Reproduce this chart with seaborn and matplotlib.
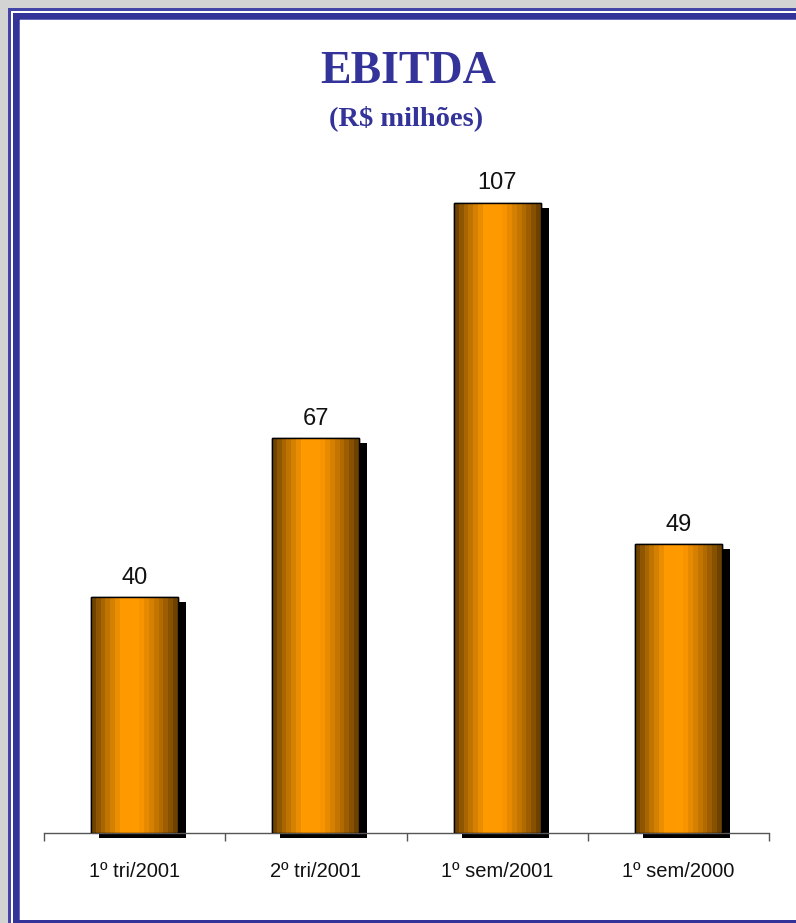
import numpy as np
import pandas as pd
import matplotlib
matplotlib.use("Agg")
import matplotlib.pyplot as plt
import matplotlib.transforms as mtransforms
from matplotlib.patches import Rectangle
import seaborn as sns

# ---- data ----
categories = ["1º tri/2001", "2º tri/2001", "1º sem/2001", "1º sem/2000"]
values = [40, 67, 107, 49]
title = "EBITDA"
subtitle = "(R$ milhões)"

sns.set_theme(style="white")
plt.rcParams['font.family'] = ['Liberation Sans', 'DejaVu Sans']

W, H = 796, 923
fig = plt.figure(figsize=(W / 100, H / 100), dpi=100)
fig.patch.set_facecolor("white")

def px_rect(x0, y0, x1, y1, color, z=0):
    fig.add_artist(Rectangle((x0 / W, 1 - y1 / H), (x1 - x0) / W, (y1 - y0) / H,
                             transform=fig.transFigure, facecolor=color,
                             edgecolor="none", zorder=z))

# outer grey margin
px_rect(0, 0, W, 8, "#d3d3d3")
px_rect(0, 0, 8, H, "#d3d3d3")
blue = "#333399"
# thin outer frame line
px_rect(8, 8, W, 11, "#4444a6")
px_rect(8, 8, 11, H, "#4444a6")
# thick frame band
px_rect(13, 13, W, 20, blue)
px_rect(13, 13, 20, H, blue)
px_rect(20, 19, W, 20, "#6a6ab8")
px_rect(19, 20, 20, H, "#6a6ab8")
px_rect(13, 920, W, H, blue)

ax = fig.add_axes([44 / W, 90 / H, 725 / W, (833 - 170) / H])
df = pd.DataFrame({"cat": categories, "val": values})
sns.barplot(data=df, x="cat", y="val", ax=ax, width=0.48, color="#ff9900",
            edgecolor="black", linewidth=1.0, zorder=3)

ax.set_xlim(-0.5, len(categories) - 0.5)
ax.set_ylim(0, 112.6)
ax.set_facecolor("white")
for s in ["top", "left", "right"]:
    ax.spines[s].set_visible(False)
ax.spines["bottom"].set_color("#555555")
ax.spines["bottom"].set_linewidth(1.0)
ax.spines["bottom"].set_zorder(2)
ax.set_yticks([])
ax.set_xlabel("")
ax.set_ylabel("")
ax.tick_params(axis="x", which="major", length=0, pad=21, labelsize=14.5,
               labelcolor="#111111")
ax.set_xticks(np.arange(-0.5, len(categories)), minor=True)
ax.tick_params(axis="x", which="minor", length=6, width=1.0, color="#555555",
               direction="out", bottom=True)

# stepped gradient for cylinder-like bars
dark = np.array([0x5c, 0x38, 0x00]) / 255
bright = np.array([0xff, 0x99, 0x00]) / 255
nb = 18
t = (np.arange(nb) + 0.5) / nb
w = np.ones(nb)
w = np.where(t < 0.36, t / 0.36, w)
w = np.where(t > 0.56, (1 - t) / 0.44, w)
w = np.clip(w, 0, 1) ** 0.8
cols = dark[None, :] * (1 - w[:, None]) + bright[None, :] * w[:, None]
grad = cols[None, :, :]

shadow_tr = ax.transData + mtransforms.ScaledTranslation(8 / 100, -5 / 100, fig.dpi_scale_trans)

for p, v in zip(ax.patches, values):
    x0, y0 = p.get_x(), p.get_y()
    bw, bh = p.get_width(), p.get_height()
    sh = Rectangle((x0, y0), bw, bh, facecolor="black", edgecolor="none",
                   transform=shadow_tr, zorder=1, clip_on=False)
    ax.add_patch(sh)
    im = ax.imshow(grad, extent=[x0, x0 + bw, y0, y0 + bh], aspect="auto",
                   interpolation="nearest", zorder=3.5)
    im.set_clip_path(p)
    ax.add_patch(Rectangle((x0, y0), bw, bh, facecolor="none", edgecolor="black",
                           linewidth=1.0, zorder=4))
    ax.annotate(f"{v}", (x0 + bw / 2, y0 + bh), xytext=(0, 10),
                textcoords="offset points", ha="center", va="baseline",
                fontsize=17, color="#111111", zorder=5)

fig.text(408 / W, 1 - 83 / H, title, ha="center", va="baseline",
         family=["Liberation Serif", "DejaVu Serif"], fontweight="bold",
         fontsize=33, color=blue)
fig.text(406 / W, 1 - 125 / H, subtitle, ha="center", va="baseline",
         family=["Liberation Serif", "DejaVu Serif"], fontweight="bold",
         fontsize=20.5, color=blue)

fig.savefig("out.png", dpi=100, facecolor=fig.get_facecolor())
